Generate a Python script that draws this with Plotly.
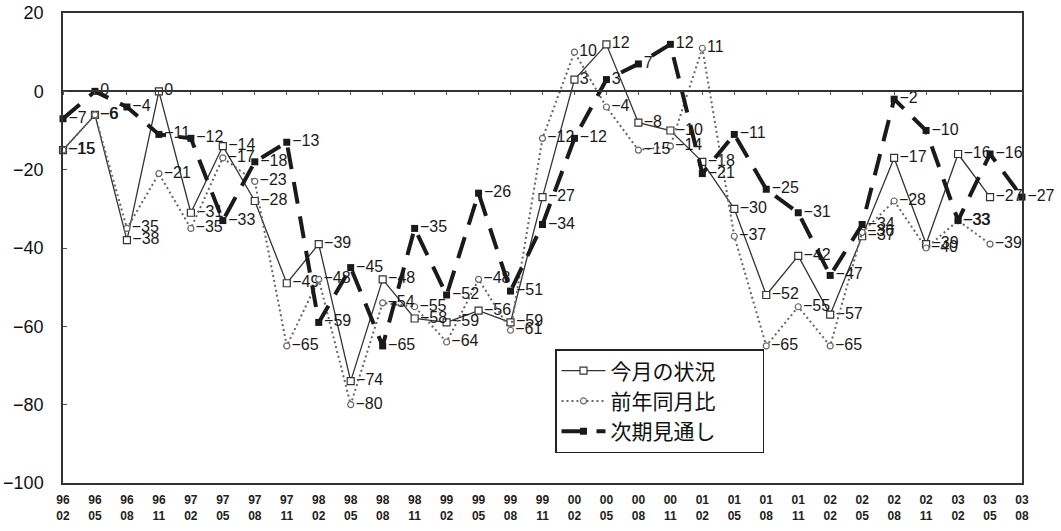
import plotly.graph_objects as go

# Quarterly survey periods (year/month)
periods = ["96/02", "96/05", "96/08", "96/11", "97/02", "97/05", "97/08", "97/11",
           "98/02", "98/05", "98/08", "98/11", "99/02", "99/05", "99/08", "99/11",
           "00/02", "00/05", "00/08", "00/11", "01/02", "01/05", "01/08", "01/11",
           "02/02", "02/05", "02/08", "02/11", "03/02", "03/05", "03/08"]

# 今月の状況
current = [-15, -6, -38, 0, -31, -14, -28, -49, -39, -74, -48, -58, -59, -56, -59, -27,
           3, 12, -8, -10, -18, -30, -52, -42, -57, -37, -17, -39, -16, -27, None]
# 前年同月比
yoy = [-15, -6, -35, -21, -35, -17, -23, -65, -48, -80, -54, -55, -64, -48, -61, -12,
       10, -4, -15, -14, 11, -37, -65, -55, -65, -36, -28, -40, -33, -39, None]
# 次期見通し
outlook = [-7, 0, -4, -11, -12, -33, -18, -13, -59, -45, -65, -35, -52, -26, -51, -34,
           -12, 3, 7, 12, -21, -11, -25, -31, -47, -34, -2, -10, -33, -16, -27]

series_names = ["今月の状況", "前年同月比", "次期見通し"]
y_ticks = [20, 0, -20, -40, -60, -80, -100]

tick_text = [p.replace("/", "<br>") for p in periods]


def labels(values):
    return ["" if v is None else str(v).replace("-", "\u2212") for v in values]


NUM_FONT = "Liberation Sans, Arial, sans-serif"
JP_FONT = "Noto Sans CJK JP, sans-serif"
# trailing blank room inside the legend box (zero-width end keeps it from being trimmed)
PAD = "\u3000\u3000\u200b"

fig = go.Figure()

fig.add_trace(go.Scatter(
    x=periods, y=current, name=series_names[0] + PAD, legendgroup="a",
    mode="lines+markers+text", text=labels(current), textposition="middle right",
    textfont=dict(family=NUM_FONT, size=16, color="#1a1a1a"),
    line=dict(color="#333333", width=1.3),
    marker=dict(symbol="square", size=7, color="white",
                line=dict(color="#333333", width=1.2)),
    cliponaxis=False,
))

fig.add_trace(go.Scatter(
    x=periods, y=yoy, name=series_names[1] + PAD, legendgroup="b",
    mode="lines+markers+text", text=labels(yoy), textposition="middle right",
    textfont=dict(family=NUM_FONT, size=16, color="#1a1a1a"),
    line=dict(color="#666666", width=2, dash="2px,3px"),
    marker=dict(symbol="circle", size=6, color="white",
                line=dict(color="#666666", width=1.2)),
    cliponaxis=False,
))

fig.add_trace(go.Scatter(
    x=periods, y=outlook, name=series_names[2] + PAD, legendgroup="c",
    mode="lines+markers+text", text=labels(outlook), textposition="middle right",
    textfont=dict(family=NUM_FONT, size=16, color="#1a1a1a"),
    line=dict(color="#1a1a1a", width=4, dash="22px,13px"),
    marker=dict(symbol="square", size=7, color="#1a1a1a"),
    cliponaxis=False,
))

# carrier for the horizontal axis drawn along y = 0
fig.add_trace(go.Scatter(
    x=periods, y=[None] * len(periods), xaxis="x2", showlegend=False,
    hoverinfo="skip", mode="lines",
))

zero_pos = (0 - y_ticks[-1]) / (y_ticks[0] - y_ticks[-1])

fig.update_layout(
    width=1061, height=531,
    margin=dict(l=63, r=39, t=13, b=48),
    paper_bgcolor="white", plot_bgcolor="white",
    xaxis=dict(
        type="category", categoryorder="array", categoryarray=periods,
        range=[0, len(periods) - 1], automargin=False,
        tickmode="array", tickvals=periods, ticktext=tick_text,
        ticks="", showgrid=False, zeroline=False,
        showline=True, linecolor="#333333", linewidth=1.5, mirror=True,
        tickfont=dict(family=NUM_FONT, size=12, color="#222222", weight="bold"),
        ticklabelstandoff=5,
    ),
    xaxis2=dict(
        type="category", categoryorder="array", categoryarray=periods,
        range=[0, len(periods) - 1], overlaying="x", anchor="free",
        position=zero_pos, side="bottom", automargin=False,
        showline=True, linecolor="#333333", linewidth=1.5,
        ticks="outside", ticklen=3, tickcolor="#555555",
        showticklabels=False, showgrid=False, zeroline=False,
    ),
    yaxis=dict(
        range=[y_ticks[-1], y_ticks[0]], tickmode="array", tickvals=y_ticks,
        automargin=False,
        ticks="inside", ticklen=4, tickcolor="#555555",
        showgrid=False, zeroline=False,
        showline=True, linecolor="#333333", linewidth=1.5, mirror=True,
        tickfont=dict(family=NUM_FONT, size=18, color="#111111"),
        ticklabelstandoff=14,
    ),
    legend=dict(
        x=(555 - 63) / 959, y=1 - (349 - 13) / 470, xanchor="left", yanchor="top",
        bgcolor="white", bordercolor="#222222", borderwidth=1.5,
        font=dict(family=JP_FONT, size=21, color="#111111"),
        tracegroupgap=0, itemwidth=44,
    ),
    showlegend=True,
)

fig.write_html("out.html")
